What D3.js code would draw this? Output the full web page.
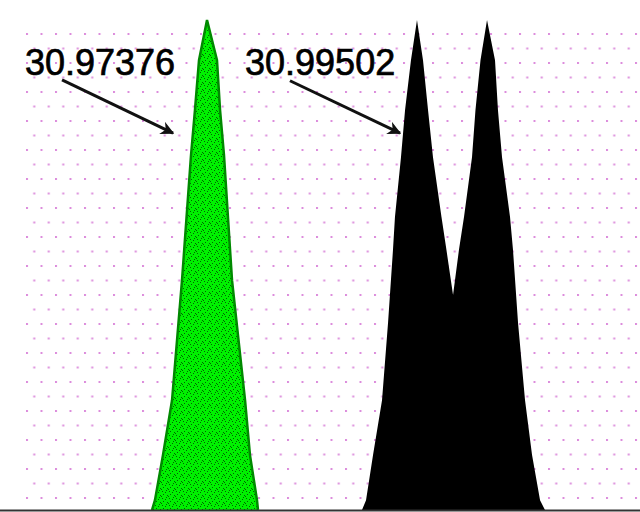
<!DOCTYPE html>
<html><head><meta charset="utf-8">
<script src="https://cdn.jsdelivr.net/npm/d3@7"></script>
<style>html,body{margin:0;padding:0;background:#fff;overflow:hidden}</style>
</head><body><svg id="c" width="640" height="512"></svg>
<script>
// m/z domain shown and intensity (relative %)
const mzDomain = [30.95280, 31.01760];
const intensityDomain = [0, 100];

// Green peak (single) profile: [m/z, relative intensity]
const greenPeak = [
  [30.96819, 0], [30.96849, 2.0], [30.96930, 11.2], [30.97022, 22.4], [30.97123, 46.9],
  [30.97214, 72.4], [30.97254, 81.6], [30.97295, 91.8], [30.97376, 100],
  [30.97477, 91.8], [30.97508, 81.6], [30.97548, 72.4], [30.97629, 46.9],
  [30.97761, 22.4], [30.97811, 11.2], [30.97882, 2.0], [30.97892, 0]
];

// Black doublet profile: [m/z, relative intensity]
const blackPeak = [
  [30.98945, 0], [30.98986, 2.0], [30.99057, 11.2], [30.99148, 22.4], [30.99209, 38.2],
  [30.99259, 53.1], [30.99279, 59.8], [30.99340, 72.0], [30.99381, 81.6], [30.99441, 91.8],
  [30.99502, 100], [30.99563, 91.8], [30.99614, 81.6], [30.99664, 72.0], [30.99750, 59.8],
  [30.99800, 53.1], [30.99867, 43.9], [30.99927, 53.1], [30.99978, 59.8], [31.00059, 72.0],
  [31.00094, 81.6], [31.00145, 91.8], [31.00211, 100], [31.00292, 91.8], [31.00322, 81.6],
  [31.00363, 72.0], [31.00444, 59.8], [31.00474, 53.1], [31.00525, 38.2], [31.00596, 22.4],
  [31.00667, 11.2], [31.00748, 2.0], [31.00798, 0]
];

// Annotations: label text, label anchor, arrow start, arrow end (data units)
const labels = ["30.97376", "30.99502"];
const labelAt = [[30.95533, 88.8], [30.97761, 88.8]];
const arrowFrom = [[30.95908, 87.8], [30.98216, 87.6]];
const arrowTo = [[30.97032, 76.9], [30.99330, 76.9]];

const W = 640, H = 512;
const svg = d3.select("#c");
const x = d3.scaleLinear().domain(mzDomain).range([0, W]);
const y = d3.scaleLinear().domain(intensityDomain).range([510, 20]);

const defs = svg.append("defs");
// pink dotted background grid (staggered)
const gp = defs.append("pattern").attr("id", "dots").attr("patternUnits", "userSpaceOnUse")
  .attr("x", 26).attr("y", 33).attr("width", 14.5).attr("height", 29);
gp.append("rect").attr("x", 0).attr("y", 0).attr("width", 2).attr("height", 2).attr("fill", "#dc8cdc");
gp.append("rect").attr("x", 7.25).attr("y", 14.5).attr("width", 2).attr("height", 2).attr("fill", "#dc8cdc");

// speckled green fill
const sp = defs.append("pattern").attr("id", "speck").attr("patternUnits", "userSpaceOnUse")
  .attr("width", 7).attr("height", 7);
sp.append("rect").attr("width", 7).attr("height", 7).attr("fill", "#00f000");
[[1,1],[4,2],[2,4],[6,5],[5,0],[0,6]].forEach(p =>
  sp.append("rect").attr("x", p[0]).attr("y", p[1]).attr("width", 1).attr("height", 1).attr("fill", "#006400"));

const marker = defs.append("marker").attr("id", "ah").attr("viewBox", "0 0 10 10")
  .attr("refX", 9).attr("refY", 5).attr("markerWidth", 4.5).attr("markerHeight", 4.5)
  .attr("markerUnits", "strokeWidth").attr("orient", "auto");
marker.append("path").attr("d", "M0,0 L10,5 L0,10 L3,5 Z").attr("fill", "#111");

svg.append("rect").attr("width", W).attr("height", H).attr("fill", "#fff");
svg.append("rect").attr("x", 24).attr("y", 30).attr("width", W - 24).attr("height", 478).attr("fill", "url(#dots)");

const area = d3.area().x(d => x(d[0])).y0(y(0)).y1(d => y(d[1])).curve(d3.curveLinear);
const line = d3.line().x(d => x(d[0])).y(d => y(d[1])).curve(d3.curveLinear);

svg.append("path").datum(greenPeak).attr("d", area).attr("fill", "url(#speck)");
svg.append("path").datum(greenPeak).attr("d", line).attr("fill", "none")
  .attr("stroke", "#008a00").attr("stroke-width", 2.5);

svg.append("path").datum(blackPeak).attr("d", area).attr("fill", "#000");

// baseline
svg.append("line").attr("x1", 0).attr("x2", W).attr("y1", y(0) + 0.5).attr("y2", y(0) + 0.5)
  .attr("stroke", "#333").attr("stroke-width", 2);

// labels and arrows
labels.forEach((t, i) => {
  svg.append("text").attr("x", x(labelAt[i][0])).attr("y", y(labelAt[i][1]))
    .attr("font-family", "Liberation Sans, Arial, sans-serif").attr("font-size", 36)
    .attr("fill", "#000").attr("stroke", "#000").attr("stroke-width", 0.7).text(t);
  svg.append("line").attr("x1", x(arrowFrom[i][0])).attr("y1", y(arrowFrom[i][1]))
    .attr("x2", x(arrowTo[i][0])).attr("y2", y(arrowTo[i][1]))
    .attr("stroke", "#111").attr("stroke-width", 3).attr("marker-end", "url(#ah)");
});
</script></body></html>
